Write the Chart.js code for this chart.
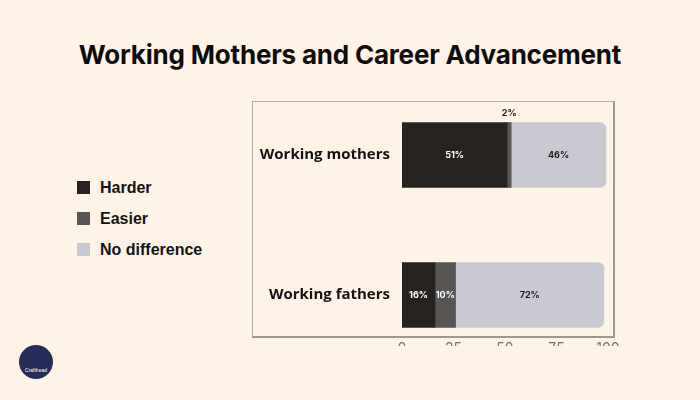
<!DOCTYPE html>
<html>
<head>
<meta charset="utf-8">
<script src="https://cdn.jsdelivr.net/npm/chart.js@4.4.0/dist/chart.umd.min.js"></script>
<style>
  body { margin: 0; width: 700px; height: 400px; background: #fdf3e6; position: relative; overflow: hidden; font-family: "Liberation Sans", Arial, sans-serif; }
  h1 { position: absolute; top: 39px; left: 0; width: 700px; margin: 0; text-align: center; font: 700 26px Inter, sans-serif; color: #0d0d0d; letter-spacing: -0.2px; }
  #legend { position: absolute; left: 77px; top: 172px; }
  .lg-item { display: flex; align-items: center; height: 31px; font-weight: 700; font-size: 16px; color: #141414; }
  .lg-box { width: 13px; height: 13px; margin-right: 10px; }
  #frame { position: absolute; left: 252px; top: 101px; width: 363px; height: 237px; box-sizing: border-box; border: 1px solid #b3aba2; border-right: 2px solid #a19990; border-bottom: 2px solid #a19990; }
  #clip { position: absolute; left: 252px; top: 101px; width: 390px; height: 245px; overflow: hidden; }
  #logo { position: absolute; left: 19px; top: 345px; width: 34px; height: 34px; border-radius: 50%; background: #262b57; color: #fff; font-size: 5px; text-align: center; line-height: 50px; }
</style>
</head>
<body>
<h1>Working Mothers and Career Advancement</h1>
<div id="legend"></div>
<div id="frame"></div>
<div id="clip"><canvas id="chart" width="390" height="245"></canvas></div>
<div id="logo">Crafthead</div>
<script>
/* data */
const GROUPS   = ['Working mothers', 'Working fathers'];
const SERIES   = ['Harder', 'Easier', 'No difference'];
const HARDER   = [51, 16];
const EASIER   = [2, 10];
const NO_DIFF  = [46, 72];
const COLORS   = ['#262220', '#575654', '#c9c9d1'];
const X_TICKS  = [0, 25, 50, 75, 100];

// legend (html)
document.getElementById('legend').innerHTML = SERIES.map((s, i) => `
  <div class="lg-item"><div class="lg-box" style="background:${COLORS[i]}"></div>${s}</div>`).join('');

// % labels on each segment
const segLabels = {
  id: 'segLabels',
  afterDatasetsDraw(chart) {
    const ctx = chart.ctx;
    ctx.save();
    ctx.font = '700 9px Inter, sans-serif';
    ctx.textAlign = 'center';
    ctx.textBaseline = 'middle';
    chart.data.datasets.forEach((ds, di) => {
      chart.getDatasetMeta(di).data.forEach((bar, i) => {
        const v = ds.data[i];
        const x = (bar.x + bar.base) / 2;
        if (v < 5) {
          ctx.fillStyle = '#1a1a1a';
          ctx.fillText(v + '%', x, bar.y - bar.height / 2 - 9);
        } else {
          ctx.fillStyle = di === 2 ? '#1a1a1a' : '#ffffff';
          ctx.fillText(v + '%', x, bar.y);
        }
      });
    });
    ctx.restore();
  }
};

new Chart(document.getElementById('chart'), {
  type: 'bar',
  data: {
    labels: GROUPS,
    datasets: [
      { label: SERIES[0], data: HARDER,  backgroundColor: COLORS[0] },
      { label: SERIES[1], data: EASIER,  backgroundColor: COLORS[1] },
      { label: SERIES[2], data: NO_DIFF, backgroundColor: COLORS[2], borderRadius: 6 },
    ],
  },
  options: {
    indexAxis: 'y', responsive: false, animation: false,
    barThickness: 65,
    layout: { padding: { left: 0, right: 34, top: 0, bottom: 0 } },
    plugins: { legend: { display: false }, tooltip: { enabled: false } },
    scales: {
      x: {
        stacked: true, min: 0, max: 100,
        afterBuildTicks: s => { s.ticks = X_TICKS.map(v => ({ value: v })); },
        afterFit: s => { s.height = 9; },
        grid: { display: false, drawTicks: false }, border: { display: false },
        ticks: { padding: 3, color: '#7a736c', font: { size: 14, family: 'Inter' } },
      },
      y: {
        stacked: true,
        afterBuildTicks: s => { s._startValue = -0.386; s._valueRange = 1.686; },
        afterFit: s => { s.width = 150; s.paddingTop = 0; s.paddingBottom = 0; },
        grid: { display: false, drawTicks: false }, border: { display: false },
        ticks: { padding: 12, color: '#111111', font: { size: 15, weight: '700', family: 'Open Sans' } },
      },
    },
  },
  plugins: [segLabels],
});
</script>
</body>
</html>
